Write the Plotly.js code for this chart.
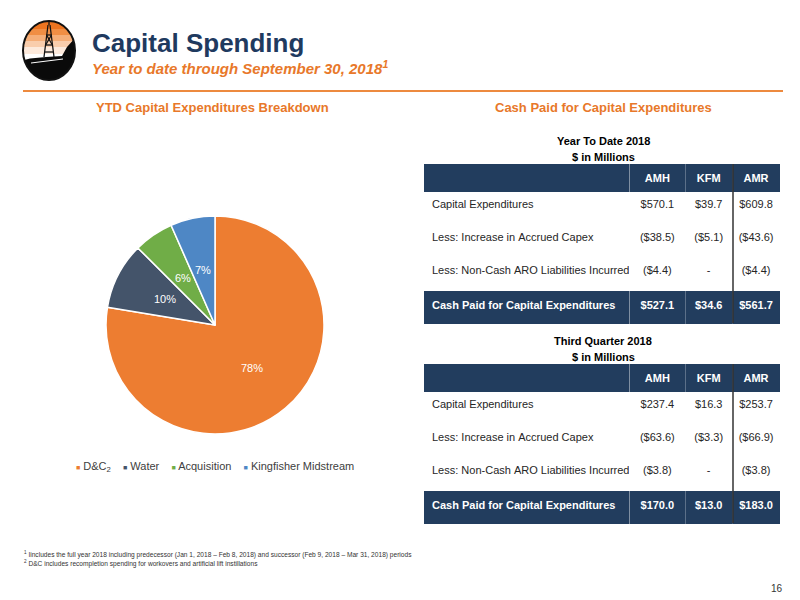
<!DOCTYPE html>
<html>
<head>
<meta charset="utf-8">
<script src="https://cdn.plot.ly/plotly-3.0.1.min.js"></script>
<style>html,body{margin:0;padding:0;background:#fff;}#chart{width:800px;height:600px;}</style>
</head>
<body>
<div id="chart"></div>
<script>
// ---------- Data ----------
const pieLabels = ['D&amp;C<sub>2</sub>', 'Water', 'Acquisition', 'Kingfisher Midstream'];
const pieValues = [77.6, 9.9, 5.9, 6.6];
const pieColors = ['#ED7D31', '#44546A', '#70AD47', '#4E87C5'];

const tableHeader = ['', 'AMH', 'KFM', 'AMR'];
const rowLabels = ['Capital Expenditures', 'Less: Increase in Accrued Capex', 'Less: Non-Cash ARO Liabilities Incurred', 'Cash Paid for Capital Expenditures'];

const ytdAMH = [570.1, -38.5, -4.4, 527.1];
const ytdKFM = [39.7, -5.1, null, 34.6];
const ytdAMR = [609.8, -43.6, -4.4, 561.7];

const q3AMH = [237.4, -63.6, -3.8, 170.0];
const q3KFM = [16.3, -3.3, null, 13.0];
const q3AMR = [253.7, -66.9, -3.8, 183.0];

const footnotes = [
  '<sup>1</sup> Iincludes the full year 2018 including predecessor (Jan 1, 2018 \u2013 Feb 8, 2018) and successor (Feb 9, 2018 \u2013 Mar 31, 2018) periods',
  '<sup>2</sup> D&amp;C includes recompletion spending for workovers and artificial lift instillations'
];

// ---------- Helpers ----------
const W = 800, H = 600;
const px = x => x / W;
const py = y => 1 - y / H;
const NAVY = '#223D5E';
const ORANGE = '#E8782A';
const FONT = 'Liberation Sans, Arial, Helvetica, sans-serif';

function fmt(v) {
  if (v === null) return '-';
  if (v < 0) return '($' + Math.abs(v).toFixed(1) + ')';
  return '$' + v.toFixed(1);
}
function boldLast(arr) {
  return arr.map((s, i) => i === arr.length - 1 ? '<b>' + s + '</b>' : s);
}
const nb = s => s.replace(/ /g, '\u00A0');
function makeTable(a, b, c, top, bottom) {
  const n = rowLabels.length;
  const fillCol = rowLabels.map((_, i) => i === n - 1 ? NAVY : '#FFFFFF');
  const fontCol = rowLabels.map((_, i) => i === n - 1 ? '#FFFFFF' : '#262626');
  return {
    type: 'table',
    domain: {x: [px(424), px(781)], y: [py(bottom), py(top)]},
    columnwidth: [206, 56, 47, 48],
    header: {
      values: tableHeader.map(h => '<b>' + (h || '\u00A0') + '</b>'),
      align: ['left', 'center', 'center', 'center'],
      fill: {color: NAVY},
      line: {width: 0, color: NAVY},
      font: {family: FONT, size: 11, color: '#FFFFFF'},
      height: 27
    },
    cells: {
      values: [boldLast(rowLabels.map(nb)), boldLast(a.map(fmt)), boldLast(b.map(fmt)), boldLast(c.map(fmt))],
      align: ['left', 'center', 'center', 'center'],
      fill: {color: [fillCol, fillCol, fillCol, fillCol]},
      line: {width: 0, color: [fillCol, fillCol, fillCol, fillCol]},
      font: {family: FONT, size: 11, color: [fontCol, fontCol, fontCol, fontCol]},
      height: 33
    }
  };
}

// ---------- Pie ----------
const PIE_CX = 215, PIE_CY = 325, PIE_R = 109;
const pie = {
  type: 'pie',
  labels: pieLabels,
  values: pieValues,
  sort: false,
  direction: 'clockwise',
  rotation: 0,
  marker: {colors: pieColors, line: {color: '#FFFFFF', width: 1.5}},
  textinfo: 'none',
  hoverinfo: 'label+percent',
  domain: {x: [px(PIE_CX - PIE_R), px(PIE_CX + PIE_R)], y: [py(PIE_CY + PIE_R), py(PIE_CY - PIE_R)]},
  showlegend: false
};

const t1 = makeTable(ytdAMH, ytdKFM, ytdAMR, 164, 330);
const t2 = makeTable(q3AMH, q3KFM, q3AMR, 364, 530);

// ---------- Logo shapes ----------
const cx = 49, cy = 50.5, rx = 26, ry = 29.5;
function pathFrom(points) {
  return 'M ' + points.map(p => px(p[0]) + ',' + py(p[1])).join(' L ') + ' Z';
}
function band(y1, y2) {
  const pts = [];
  const steps = 12;
  for (let i = 0; i <= steps; i++) {
    const y = y1 + (y2 - y1) * i / steps;
    const hw = rx * Math.sqrt(Math.max(0, 1 - Math.pow((y - cy) / ry, 2)));
    pts.push([cx + hw, y]);
  }
  for (let i = steps; i >= 0; i--) {
    const y = y1 + (y2 - y1) * i / steps;
    const hw = rx * Math.sqrt(Math.max(0, 1 - Math.pow((y - cy) / ry, 2)));
    pts.push([cx - hw, y]);
  }
  return pts;
}
const shapes = [];
const bands = [[21, 29, '#EC7420'], [29, 35, '#F08E44'], [35, 41, '#F5AE78'], [41, 47, '#F9CDAC'], [47, 54, '#FDEADC']];
bands.forEach(b => shapes.push({type: 'path', xref: 'paper', yref: 'paper', path: pathFrom(band(b[0], b[1])), fillcolor: b[2], line: {width: 0}}));
(function () {
  const pts = [];
  const t0 = Math.PI - Math.asin((60 - cy) / ry);
  const t1e = -Math.asin((cy - 40) / ry);
  const steps = 30;
  for (let i = 0; i <= steps; i++) {
    const t = t0 + (t1e - t0) * i / steps;
    pts.push([cx + rx * Math.cos(t), cy + ry * Math.sin(t)]);
  }
  pts.push([67, 47], [62, 56], [46, 57], [30, 58.5]);
  shapes.push({type: 'path', xref: 'paper', yref: 'paper', path: pathFrom(pts), fillcolor: '#0A0A0A', line: {width: 0}});
  shapes.push({type: 'line', xref: 'paper', yref: 'paper', x0: px(31), y0: py(63), x1: px(63), y1: py(59), line: {color: '#FFFFFF', width: 1}});
})();
[[[44, 57], [48, 25]], [[54, 57], [50, 25]], [[46.5, 35], [51.5, 35]], [[45.6, 45], [52.4, 45]], [[44.9, 52], [53.1, 52]], [[49, 21], [49, 25]], [[45.6, 45], [51.5, 35]], [[52.4, 45], [46.5, 35]]].forEach(l => {
  shapes.push({type: 'line', xref: 'paper', yref: 'paper', x0: px(l[0][0]), y0: py(l[0][1]), x1: px(l[1][0]), y1: py(l[1][1]), line: {color: '#111111', width: 1.3}});
});
shapes.push({type: 'circle', xref: 'paper', yref: 'paper', x0: px(cx - rx), x1: px(cx + rx), y0: py(cy + ry), y1: py(cy - ry), line: {color: '#111111', width: 2}, fillcolor: 'rgba(0,0,0,0)'});
shapes.push({type: 'line', xref: 'paper', yref: 'paper', x0: px(23), x1: px(783), y0: py(91), y1: py(91), line: {color: '#ED8A3F', width: 2}});
[[164, 323], [364, 523]].forEach(r => shapes.push({type: 'line', xref: 'paper', yref: 'paper', x0: px(733), x1: px(733), y0: py(r[0]), y1: py(r[1]), line: {color: '#333333', width: 1.5}}));

// ---------- Annotations ----------
const ann = [];
function txt(text, x, y, size, opts) {
  ann.push(Object.assign({text: text, x: px(x), y: py(y), xref: 'paper', yref: 'paper', showarrow: false,
    xanchor: 'left', yanchor: 'middle', font: {family: FONT, size: size, color: '#000'}}, opts || {}));
}
// pie percentage labels, placed at half radius on each slice's mid-angle
(function () {
  const total = pieValues.reduce((s, v) => s + v, 0);
  let cum = 0;
  pieValues.forEach(v => {
    const mid = (cum + v / 2) / total * 2 * Math.PI;
    cum += v;
    const r = PIE_R * 0.52;
    const x = PIE_CX + r * Math.sin(mid);
    const y = PIE_CY - r * Math.cos(mid);
    txt(Math.round(v / total * 100) + '%', x, y, 11, {xanchor: 'center', font: {family: FONT, size: 11, color: '#FFFFFF'}});
  });
})();
txt('<b>Capital Spending</b>', 90, 43, 26, {font: {family: FONT, size: 26, color: '#1F3A5F'}});
txt('<b><i>Year to date through September 30, 2018<sup style="font-size:9px">1</sup></i></b>', 90, 68, 15, {font: {family: FONT, size: 15, color: ORANGE}});
txt('<b>YTD Capital Expenditures Breakdown</b>', 212, 108, 13, {xanchor: 'center', font: {family: FONT, size: 13, color: ORANGE}});
txt('<b>Cash Paid for Capital Expenditures</b>', 603, 108, 13, {xanchor: 'center', font: {family: FONT, size: 13, color: ORANGE}});
txt('<b>Year To Date 2018</b>', 603, 141, 11, {xanchor: 'center'});
txt('<b>$ in Millions</b>', 603, 157, 11, {xanchor: 'center'});
txt('<b>Third Quarter 2018</b>', 603, 341, 11, {xanchor: 'center'});
txt('<b>$ in Millions</b>', 603, 357, 11, {xanchor: 'center'});
const legendText = pieLabels.map((l, i) => '<span style="color:' + pieColors[i] + ';font-size:7px">\u25A0</span> ' + l).join('\u00A0\u00A0\u00A0\u00A0');
txt(legendText, 215, 467, 11, {xanchor: 'center', font: {family: FONT, size: 11, color: '#404040'}});
footnotes.forEach((f, i) => txt(f, 22, 554 + i * 9, 6.6, {font: {family: FONT, size: 6.6, color: '#333333'}}));
txt('16', 777, 588, 10, {xanchor: 'center', font: {family: FONT, size: 10, color: '#333333'}});

const layout = {
  width: W, height: H,
  margin: {l: 0, r: 0, t: 0, b: 0},
  paper_bgcolor: '#FFFFFF',
  plot_bgcolor: '#FFFFFF',
  showlegend: false,
  shapes: shapes,
  annotations: ann
};

Plotly.newPlot('chart', [pie, t1, t2], layout, {displayModeBar: false, staticPlot: true});
</script>
</body>
</html>
